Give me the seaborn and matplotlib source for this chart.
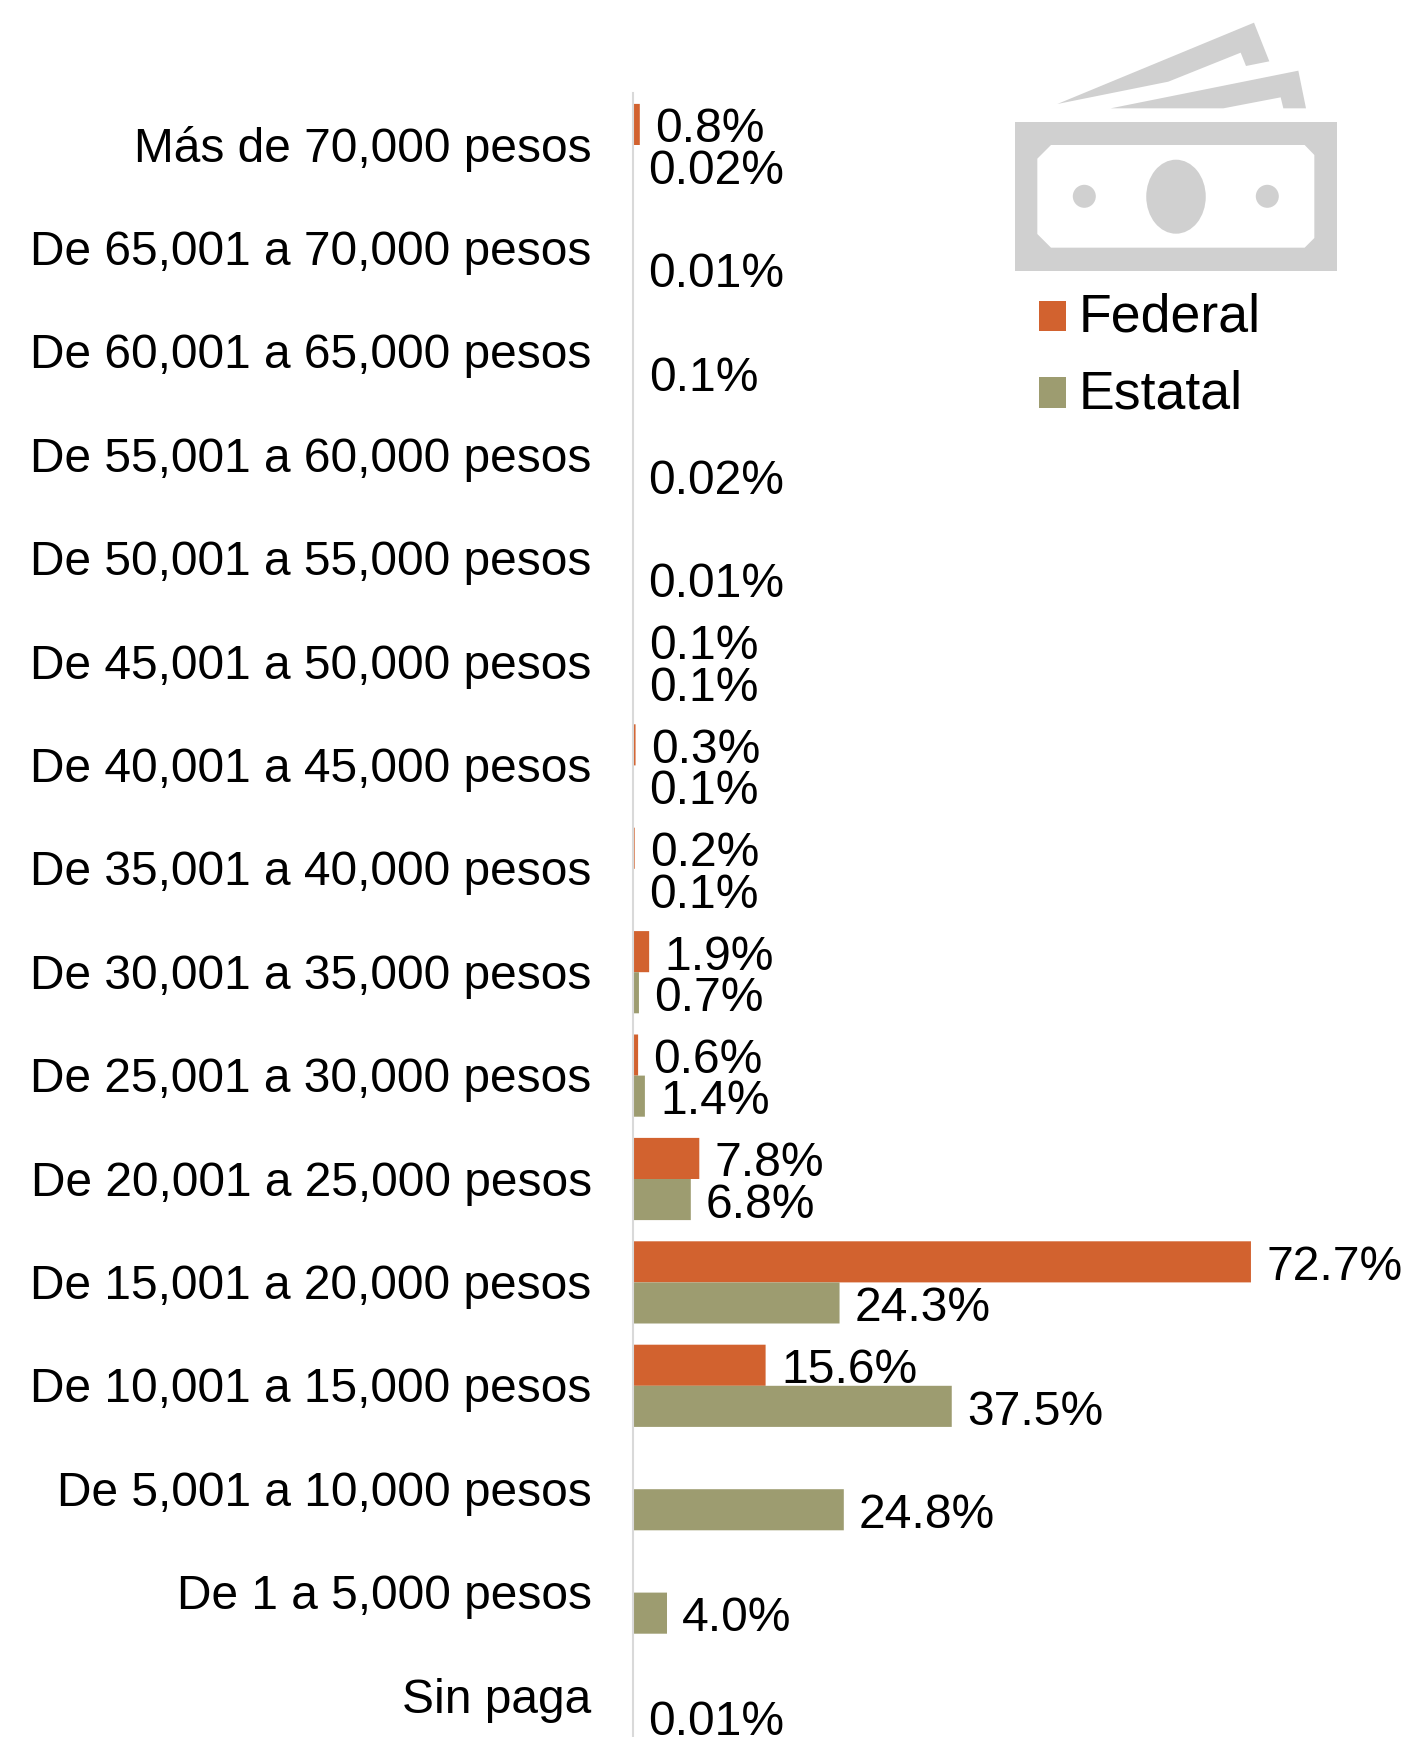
import numpy as np
import pandas as pd
import matplotlib
matplotlib.use("Agg")
import matplotlib.pyplot as plt
from matplotlib.patches import Polygon, Ellipse, Rectangle, Circle
from matplotlib.transforms import ScaledTranslation
import seaborn as sns

categories = ["Más de 70,000 pesos", "De 65,001 a 70,000 pesos", "De 60,001 a 65,000 pesos",
              "De 55,001 a 60,000 pesos", "De 50,001 a 55,000 pesos", "De 45,001 a 50,000 pesos",
              "De 40,001 a 45,000 pesos", "De 35,001 a 40,000 pesos", "De 30,001 a 35,000 pesos",
              "De 25,001 a 30,000 pesos", "De 20,001 a 25,000 pesos", "De 15,001 a 20,000 pesos",
              "De 10,001 a 15,000 pesos", "De 5,001 a 10,000 pesos", "De 1 a 5,000 pesos", "Sin paga"]
federal = [0.8, np.nan, np.nan, np.nan, np.nan, 0.1, 0.3, 0.2, 1.9, 0.6, 7.8, 72.7, 15.6, np.nan, np.nan, np.nan]
estatal = [0.02, 0.01, 0.1, 0.02, 0.01, 0.1, 0.1, 0.1, 0.7, 1.4, 6.8, 24.3, 37.5, 24.8, 4.0, 0.01]
federal_labels = ["0.8%", "", "", "", "", "0.1%", "0.3%", "0.2%", "1.9%", "0.6%", "7.8%", "72.7%", "15.6%", "", "", ""]
estatal_labels = ["0.02%", "0.01%", "0.1%", "0.02%", "0.01%", "0.1%", "0.1%", "0.1%", "0.7%", "1.4%", "6.8%",
                  "24.3%", "37.5%", "24.8%", "4.0%", "0.01%"]
series_colors = {"Federal": "#D2622F", "Estatal": "#9D9C70"}

W, H = 1404, 1737
sns.set_theme(style="white")
plt.rcParams["font.family"] = ["Liberation Sans", "DejaVu Sans"]

df = pd.DataFrame({
    "rango": categories * 2,
    "serie": ["Federal"] * len(categories) + ["Estatal"] * len(categories),
    "valor": federal + estatal,
})

fig = plt.figure(figsize=(W / 100, H / 100), dpi=100, facecolor="white")
left, right, top, bottom = 633, W, 93.3, H
ax = fig.add_axes([left / W, 1 - bottom / H, (right - left) / W, (bottom - top) / H])
sns.barplot(data=df, y="rango", x="valor", hue="serie", order=categories, hue_order=["Federal", "Estatal"],
            palette=series_colors, errorbar=None, width=0.795, saturation=1, ax=ax, legend=True, linewidth=0)
for bar in ax.patches:
    bar.set_snap(False)

px_per_pct = 8.5
row_px = 103.4
ax.set_xlim(0, (right - left) / px_per_pct)
ax.set_ylim((bottom - 145) / row_px, -0.5)
ax.set_xlabel("")
ax.set_ylabel("")
ax.xaxis.set_visible(False)
for s in ("top", "right", "bottom"):
    ax.spines[s].set_visible(False)
ax.spines["left"].set_color("#D9D9D9")
ax.spines["left"].set_linewidth(1.5)
ax.tick_params(axis="y", length=0, pad=29.7, labelsize=34.5, labelcolor="black")
label_shift = ScaledTranslation(0, -3.0 / 72, fig.dpi_scale_trans)
for lab in ax.get_yticklabels():
    lab.set_verticalalignment("center")
    lab.set_transform(lab.get_transform() + label_shift)

for i, (fv, ev, fl, el) in enumerate(zip(federal, estatal, federal_labels, estatal_labels)):
    if fl:
        ax.annotate(fl, (fv, i - 0.2), xytext=(11, -4), textcoords="offset points",
                    ha="left", va="center", fontsize=34.6, color="black")
    ax.annotate(el, (ev, i + 0.2), xytext=(11, -4), textcoords="offset points",
                ha="left", va="center", fontsize=34.6, color="black", annotation_clip=False)

handles, labels = ax.get_legend_handles_labels()
leg = ax.legend(handles, labels, loc="upper left", bbox_to_anchor=(1039 / W, 1 - 293 / H),
                bbox_transform=fig.transFigure, frameon=False, fontsize=38.6, handlelength=0.502,
                handleheight=0.502, handletextpad=0.235, labelspacing=0.49, borderpad=0, borderaxespad=0,
                labelcolor="black")
for patch in leg.get_patches():
    patch.set_y(patch.get_y() - 2.2)

# decorative banknote icon, in pixel coordinates of the figure
icon = fig.add_axes([0, 0, 1, 1], facecolor="none")
icon.set_xlim(0, W)
icon.set_ylim(H, 0)
icon.axis("off")
grey = "#D0D0D0"
def zoomed(points):
    return [(980 + x / 3, y / 3) for x, y in points]
icon.add_patch(Polygon(zoomed([(232, 312), (822, 68), (868, 184), (798, 198), (782, 158), (565, 245)]), fc=grey, ec="none"))
icon.add_patch(Polygon(zoomed([(392, 325), (955, 212), (978, 325), (910, 325), (902, 292), (730, 325)]), fc=grey, ec="none"))
icon.add_patch(Rectangle((1014.7, 122), 322.3, 148.7, fc=grey, ec="none"))
icon.add_patch(Polygon(zoomed([(172, 476), (213, 435), (974, 435), (1003, 465), (1003, 714), (974, 743), (213, 743), (172, 702)]), fc="white", ec="none"))
icon.add_patch(Ellipse((1176, 196.7), 59.5, 74, fc=grey, ec="none"))
icon.add_patch(Circle((1084.3, 196.3), 11.5, fc=grey, ec="none"))
icon.add_patch(Circle((1267.3, 196.3), 11.5, fc=grey, ec="none"))

fig.savefig("out.png", dpi=100, facecolor="white")
